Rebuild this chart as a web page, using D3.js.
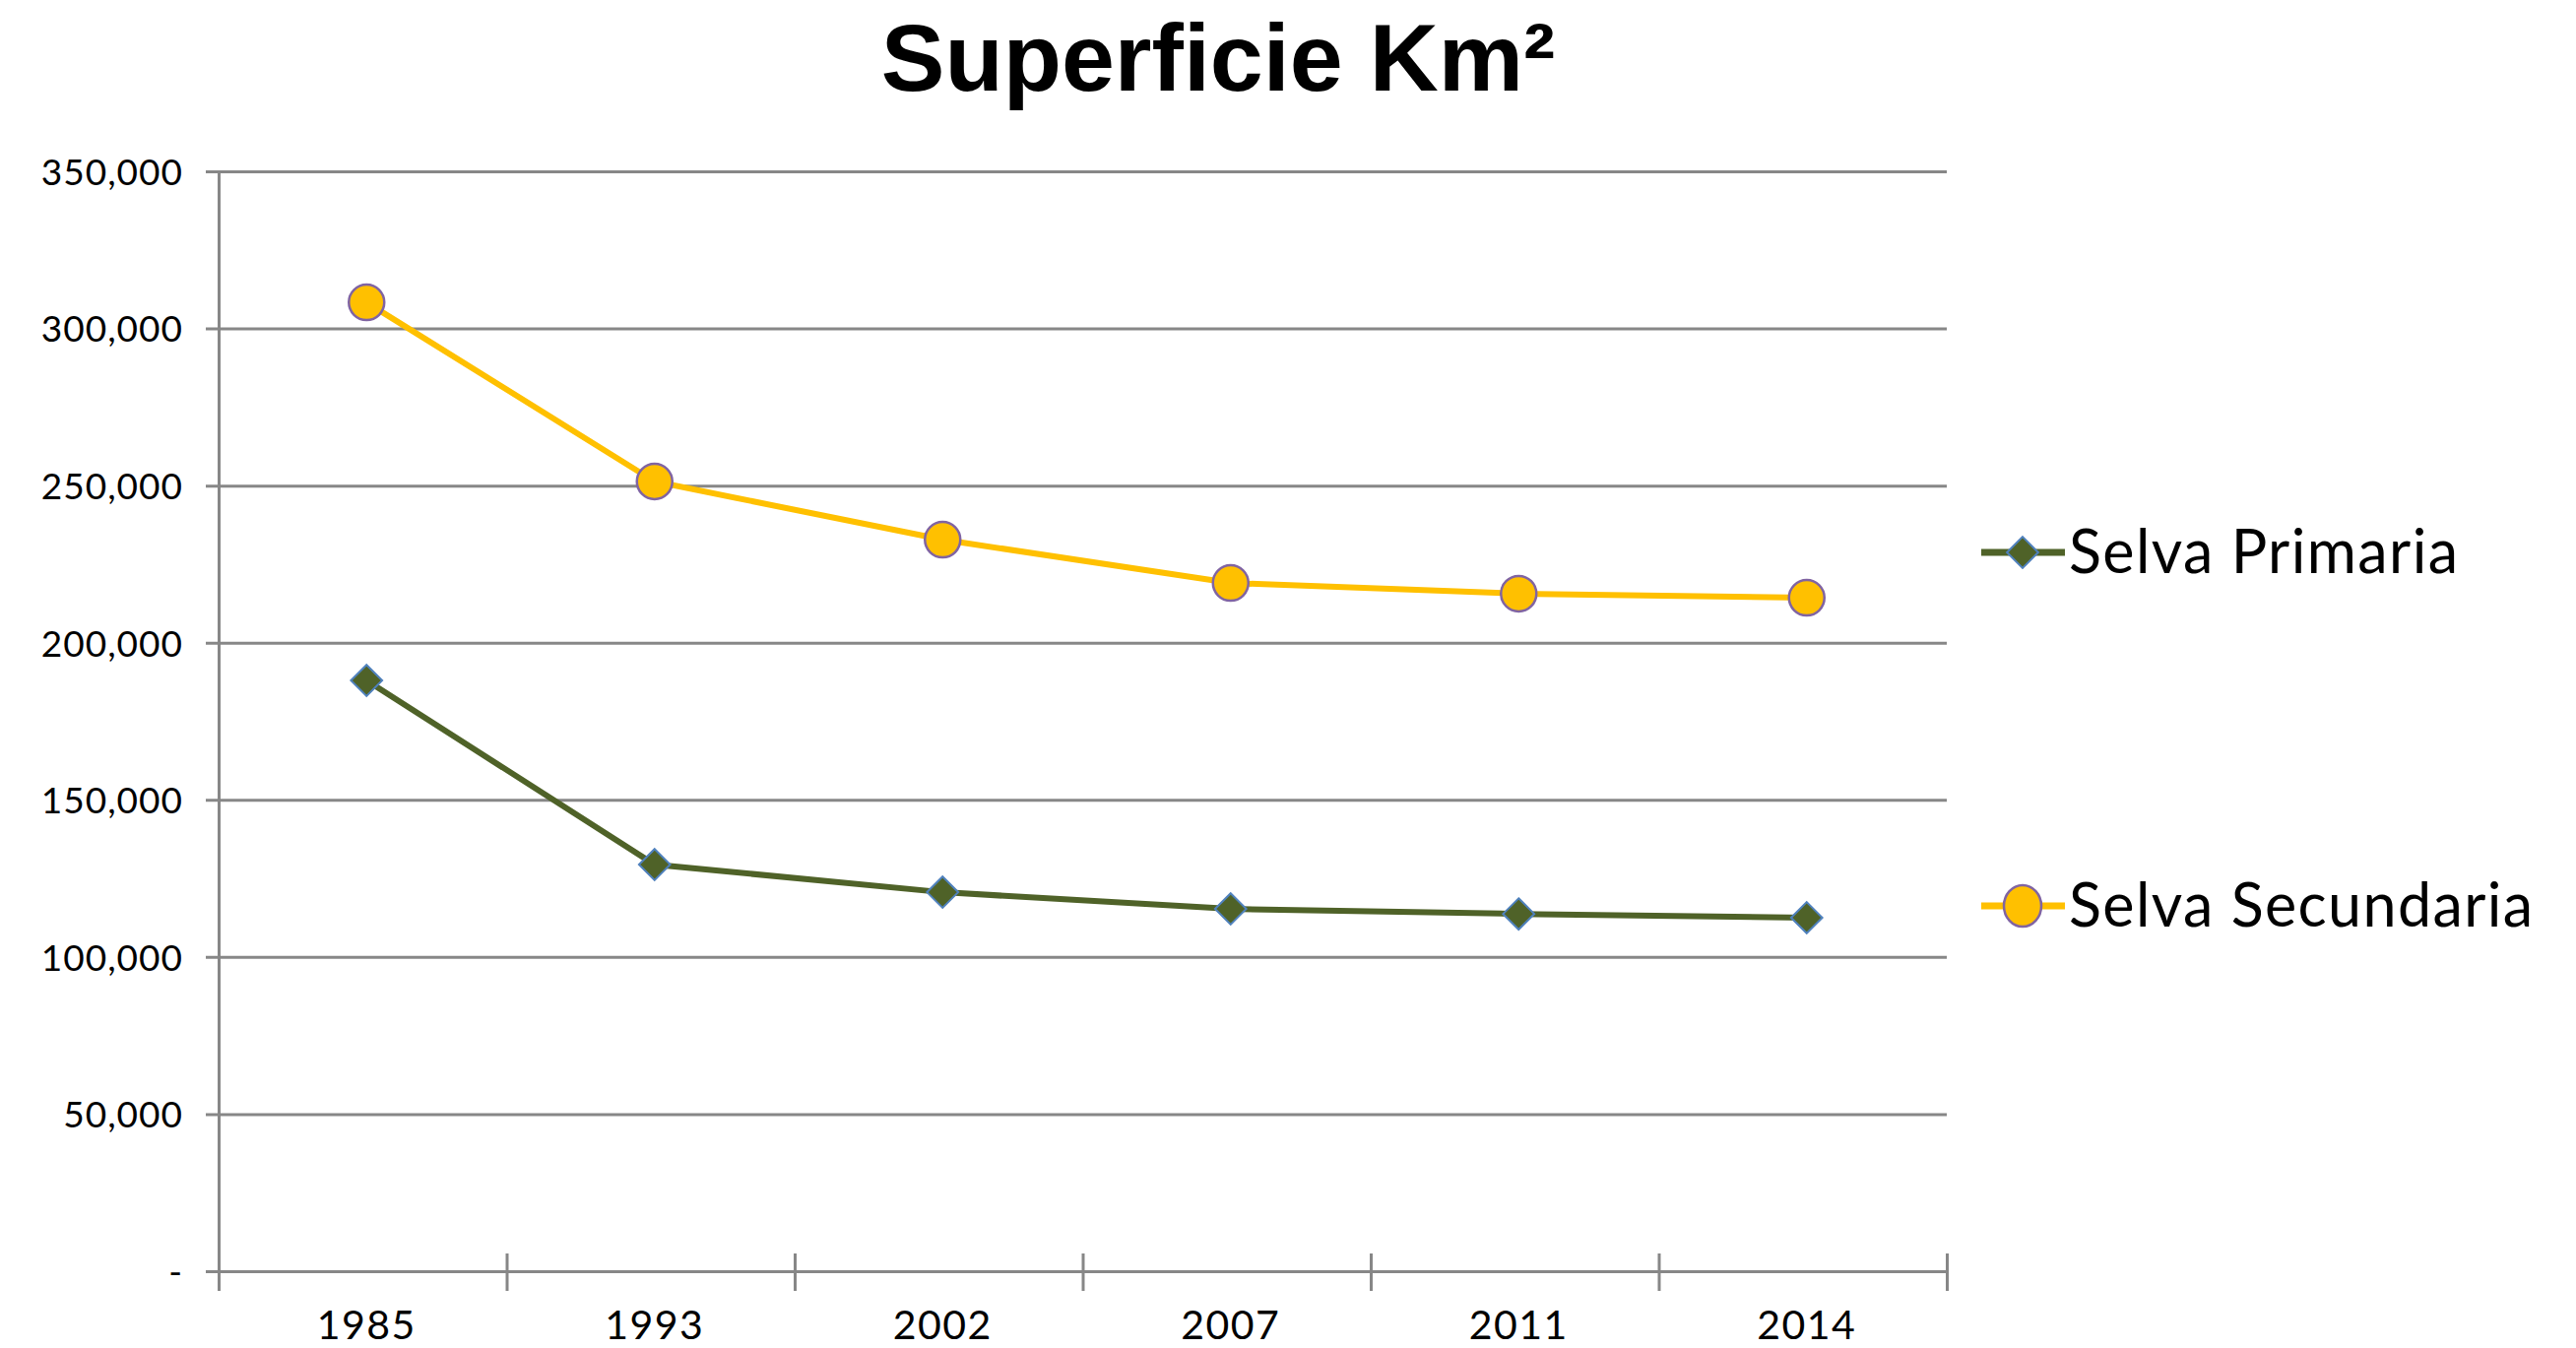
<!DOCTYPE html>
<html>
<head>
<meta charset="utf-8">
<script src="https://cdn.jsdelivr.net/npm/d3@7"></script>
<style>
  html, body { margin: 0; padding: 0; background: #fff; }
  svg { display: block; }
  .axis-label { font-family: Lato, sans-serif; fill: #000; }
</style>
</head>
<body>
<div id="chart"></div>
<script>
const years = ["1985", "1993", "2002", "2007", "2011", "2014"];
const selvaPrimaria = [188000, 129400, 120600, 115300, 113700, 112500];
const selvaSecundaria = [308300, 251300, 232800, 219000, 215600, 214300];
const yTicks = [0, 50000, 100000, 150000, 200000, 250000, 300000, 350000];
const seriesNames = ["Selva Primaria", "Selva Secundaria"];

const width = 2616;
const height = 1369;
const plot = { left: 222, right: 1977, top: 174, bottom: 1291 };
const gridColor = "#878787";
const markOffset = 4; // excel draws the markers a hair right of the band centre

const svg = d3.select("#chart")
  .append("svg")
  .attr("width", width)
  .attr("height", height);

const x = d3.scaleBand()
  .domain(years)
  .range([plot.left, plot.right])
  .padding(0);

const xEdges = d3.scaleLinear()
  .domain([0, years.length])
  .range([plot.left, plot.right]);

const y = d3.scaleLinear()
  .domain([0, 350000])
  .range([plot.bottom, plot.top]);

const cx = i => x(years[i]) + x.bandwidth() / 2 + markOffset;

// title
svg.append("text")
  .attr("x", 1237)
  .attr("y", 92)
  .attr("text-anchor", "middle")
  .style("font-family", "'Liberation Sans', Arial, sans-serif")
  .style("font-weight", "bold")
  .style("font-size", "97px")
  .text("Superficie Km²");

// gridlines + y axis
const yAxis = svg.append("g")
  .attr("transform", `translate(${plot.left},0)`)
  .call(d3.axisLeft(y)
    .tickValues(yTicks)
    .tickSizeInner(-(plot.right - plot.left))
    .tickSizeOuter(0)
    .tickPadding(36)
    .tickFormat(d => d === 0 ? "-" : d3.format(",")(d)));

yAxis.select(".domain").attr("stroke", gridColor).attr("stroke-width", 3);
yAxis.selectAll(".tick line")
  .attr("x1", -13)
  .attr("stroke", gridColor)
  .attr("stroke-width", 3);
yAxis.selectAll(".tick text")
  .attr("class", "axis-label")
  .style("font-size", "37px")
  .style("letter-spacing", "1px")
  .attr("dy", "0.36em");

// x axis: crossing tick marks at category edges
const xTickAxis = svg.append("g")
  .attr("transform", `translate(0,${plot.bottom})`)
  .call(d3.axisBottom(xEdges)
    .tickValues(d3.range(years.length + 1))
    .tickSize(20)
    .tickFormat(""));
xTickAxis.select(".domain").attr("stroke", gridColor).attr("stroke-width", 3);
xTickAxis.selectAll(".tick line")
  .attr("y1", -18)
  .attr("stroke", gridColor)
  .attr("stroke-width", 3);

const xLabelAxis = svg.append("g")
  .attr("transform", `translate(${markOffset},${plot.bottom})`)
  .call(d3.axisBottom(x).tickSize(0).tickPadding(40));
xLabelAxis.select(".domain").remove();
xLabelAxis.selectAll(".tick text")
  .attr("class", "axis-label")
  .style("font-size", "41px")
  .style("letter-spacing", "1.5px");

// lines
const lineGen = d3.line()
  .x((d, i) => cx(i))
  .y(d => y(d));

const secColor = "#FFC000";
const priColor = "#4F6228";

svg.append("path")
  .datum(selvaSecundaria)
  .attr("fill", "none")
  .attr("stroke", secColor)
  .attr("stroke-width", 6)
  .attr("d", lineGen);

svg.append("path")
  .datum(selvaPrimaria)
  .attr("fill", "none")
  .attr("stroke", priColor)
  .attr("stroke-width", 6)
  .attr("d", lineGen);

const diamond = d3.symbol().type(d3.symbolDiamond2).size(640);

svg.append("g")
  .selectAll("path")
  .data(selvaPrimaria)
  .join("path")
  .attr("transform", (d, i) => `translate(${cx(i)},${y(d)})`)
  .attr("d", diamond)
  .attr("fill", priColor)
  .attr("stroke", "#4F81BD")
  .attr("stroke-width", 2);

svg.append("g")
  .selectAll("circle")
  .data(selvaSecundaria)
  .join("circle")
  .attr("cx", (d, i) => cx(i))
  .attr("cy", d => y(d))
  .attr("r", 18)
  .attr("fill", secColor)
  .attr("stroke", "#8064A2")
  .attr("stroke-width", 2.5);

// legend
const legendRows = [
  { name: seriesNames[0], color: priColor, y: 561, marker: "diamond" },
  { name: seriesNames[1], color: secColor, y: 920, marker: "circle" }
];

const legend = svg.append("g");
legendRows.forEach(r => {
  const g = legend.append("g").attr("transform", `translate(0,${r.y})`);
  g.append("line")
    .attr("x1", 2012).attr("x2", 2097)
    .attr("stroke", r.color)
    .attr("stroke-width", 7);
  if (r.marker === "diamond") {
    g.append("path")
      .attr("transform", "translate(2054,0)")
      .attr("d", diamond)
      .attr("fill", priColor)
      .attr("stroke", "#4F81BD")
      .attr("stroke-width", 2);
  } else {
    g.append("ellipse")
      .attr("cx", 2054).attr("cy", 0)
      .attr("rx", 19).attr("ry", 21)
      .attr("fill", secColor)
      .attr("stroke", "#8064A2")
      .attr("stroke-width", 2.5);
  }
  g.append("text")
    .attr("x", 2101)
    .attr("y", 21)
    .style("font-family", "Lato, sans-serif")
    .style("font-size", "61px")
    .style("letter-spacing", "1.4px")
    .text(r.name);
});
</script>
</body>
</html>
